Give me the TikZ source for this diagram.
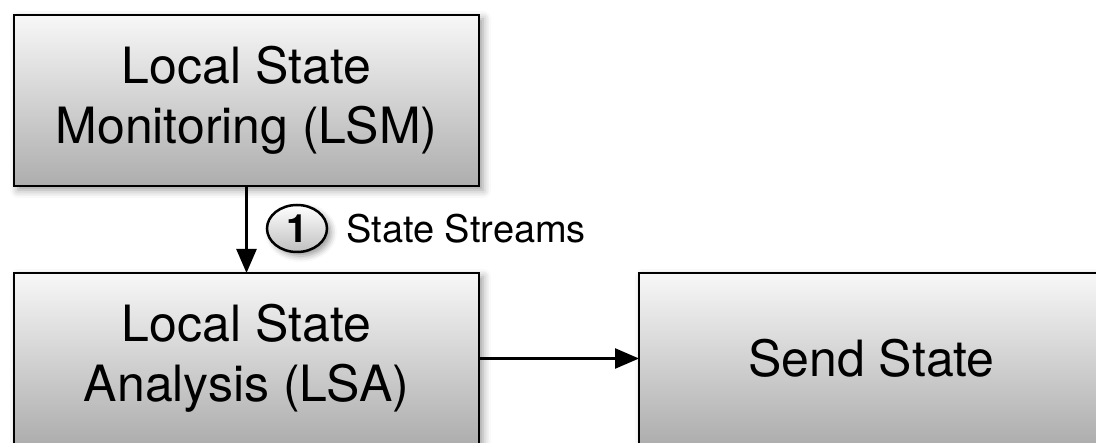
\documentclass[tikz,border=0pt]{standalone}
\usepackage{fontspec}
\setmainfont{TeX Gyre Heros}
\usetikzlibrary{calc,positioning,shapes,shadows,shadows.blur,arrows.meta}

\begin{document}
\begin{tikzpicture}[
  x=1pt, y=1pt,
  node distance=258pt, on grid,
  stage/.style={
    rectangle,
    top color=black!3,
    bottom color=black!32,
    line width=2.5pt,
    draw=black,
    minimum height=171pt, minimum width=465pt,
    blur shadow={shadow xshift=4pt, shadow yshift=-4pt, shadow blur radius=8pt},
    align=center,
    font=\fontsize{50}{60}\selectfont,
    outer sep=0pt
  },
  step mark/.style={
    ellipse,
    top color=white,
    bottom color=black!25,
    line width=2.5pt,
    draw=black,
    minimum height=47pt, minimum width=60pt,
    inner sep=0pt,
    blur shadow={shadow xshift=4pt, shadow yshift=-4pt, shadow blur radius=6pt},
    font=\fontsize{39}{39}\selectfont\bfseries
  },
  flow label/.style={
    font=\fontsize{38}{38}\selectfont,
    inner sep=0pt
  },
  flow/.style={
    line width=2.5pt,
    -{Triangle[length=24pt,width=20pt]}
  }
  ]
\useasboundingbox (0,0) rectangle (1096,-443);
% Local State Monitoring
\node [stage] (local state monitoring) at (246.5,-100.5) {Local State\\ Monitoring (LSM)};
% Local State Analysis
\node [stage] (local state analysis) [below=of local state monitoring] {Local State\\ Analysis (LSA)};
\draw [flow] (local state monitoring) -- (local state analysis);
\node [step mark] (stream step) at ($(local state monitoring.south)+(50.5,-42.5)$) {1};
\node [flow label, anchor=base west] (stream label) at ($(stream step.east)+(18,-14)$) {State Streams};
% Send State
\node [stage] (send state) [right=625pt of local state analysis] {Send State};
\draw [flow] (local state analysis) -- (send state);
\end{tikzpicture}
\end{document}
